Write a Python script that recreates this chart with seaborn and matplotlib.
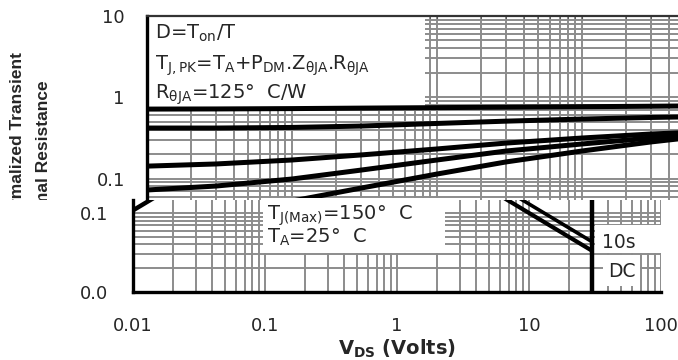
import numpy as np
import pandas as pd
import matplotlib
matplotlib.use("Agg")
import matplotlib.pyplot as plt
from matplotlib.patches import Rectangle
from matplotlib.ticker import LogLocator, NullFormatter, FixedLocator, FixedFormatter
import seaborn as sns

# --- top chart: normalized transient thermal impedance (time axis unlabeled)
pulse_t = [1e-4, 3e-4, 1e-3, 3e-3, 1e-2, 3e-2, 1e-1, 3e-1, 0.46]
z_curve_a = [0.715, 0.718, 0.725, 0.735, 0.745, 0.755, 0.765, 0.775, 0.78]
z_curve_b = [0.418, 0.418, 0.425, 0.442, 0.476, 0.508, 0.539, 0.564, 0.571]
z_curve_c = [0.142, 0.151, 0.169, 0.195, 0.231, 0.273, 0.315, 0.353, 0.364]
z_curve_d = [0.0722, 0.0808, 0.0986, 0.127, 0.169, 0.218, 0.266, 0.315, 0.334]
z_curve_e = [np.nan, np.nan, 0.0528, 0.0763, 0.1135, 0.160, 0.218, 0.282, 0.307]
top_yticks = [0.1, 1, 10]
top_ylabels = ["0.1", "1", "10"]

# --- bottom chart: safe operating area
rds_vds = [0.01, 0.02]
rds_id = [0.108, 0.216]
s10_vds = [7, 30]
s10_id = [0.186, 0.0433]
dc_vds = [6, 30]
dc_id = [0.167, 0.0333]
lim_vds = [30, 30]
lim_id = [0.01, 0.2]
bot_xticks = [0.01, 0.1, 1, 10, 100]
bot_xlabels = ["0.01", "0.1", "1", "10", "100"]
bot_yticks = [0.01, 0.1]
bot_ylabels = ["0.0", "0.1"]

sns.set_style("white")
plt.rcParams["font.family"] = ["DejaVu Sans"]
plt.rcParams["mathtext.fontset"] = "dejavusans"

GRID = "#8c8c8c"
W, H = 678, 360

fig = plt.figure(figsize=(6.78, 3.6), dpi=100)

def px_axes(l, t, r, b):
    return [l / W, 1 - b / H, (r - l) / W, (b - t) / H]

# ---------------- top chart
ax_t = fig.add_axes(px_axes(147, 16, 678, 200), zorder=0)
ax_t.set_xscale("log")
ax_t.set_yscale("log")
ax_t.set_xlim(1e-4, 10 ** (-4 + 531 / 145))
ax_t.set_ylim(10 ** (-1 - 21.5 / 81.25), 10)

zt = pd.DataFrame({"t": pulse_t * 5,
                   "z": z_curve_a + z_curve_b + z_curve_c + z_curve_d + z_curve_e,
                   "curve": sum([[k] * len(pulse_t) for k in "abcde"], [])})
zt = zt.dropna()
sns.lineplot(data=zt, x="t", y="z", hue="curve", palette=["black"] * 5,
             linewidth=3.6, legend=False, ax=ax_t, zorder=3)

ax_t.set_axisbelow(True)
ax_t.xaxis.set_major_locator(LogLocator(base=10, numticks=20))
ax_t.xaxis.set_minor_locator(LogLocator(base=10, subs=np.arange(2, 10), numticks=20))
ax_t.yaxis.set_minor_locator(LogLocator(base=10, subs=np.arange(2, 10), numticks=20))
ax_t.grid(True, which="both", color=GRID, linewidth=1.4)
ax_t.xaxis.set_major_formatter(NullFormatter())
ax_t.xaxis.set_minor_formatter(NullFormatter())
ax_t.yaxis.set_major_locator(FixedLocator(top_yticks))
ax_t.yaxis.set_major_formatter(FixedFormatter(top_ylabels))
ax_t.yaxis.set_minor_formatter(NullFormatter())
ax_t.tick_params(axis="x", which="both", bottom=False, top=True, direction="in",
                 length=3, color="#555555")
ax_t.tick_params(axis="y", which="major", direction="in", length=5, width=1.2,
                 pad=16, labelsize=13)
ax_t.tick_params(axis="y", which="minor", length=0)
for s in ["right", "bottom"]:
    ax_t.spines[s].set_visible(False)
ax_t.spines["left"].set_linewidth(2.4)
ax_t.spines["left"].set_color("black")
ax_t.spines["top"].set_linewidth(1.6)
ax_t.spines["top"].set_color("#333333")
ax_t.set_xlabel("")
ax_t.set_ylabel("")

# white legend box (covers the grid above the top curve)
ax_t.add_patch(Rectangle((0, 0.5), 0.524, 0.5, transform=ax_t.transAxes,
                         facecolor="white", edgecolor="none", zorder=2))
box_kw = dict(transform=ax_t.transAxes, fontsize=14, va="baseline", ha="left", zorder=4)
ax_t.text(0.015, 0.875, r"D=T$_{\mathrm{on}}$/T", **box_kw)
ax_t.text(0.015, 0.707,
          r"T$_{\mathrm{J,PK}}$=T$_{\mathrm{A}}$+P$_{\mathrm{DM}}$.Z$_{\mathrm{θJA}}$.R$_{\mathrm{θJA}}$",
          **box_kw)
ax_t.text(0.015, 0.549, r"R$_{\mathrm{θJA}}$=125°  C/W", **box_kw)

# y label, cut off at the left edge and under the lower chart
ylab_kw = dict(rotation=90, ha="center", va="top", fontsize=12.5,
               fontweight="bold", family=["Liberation Sans", "DejaVu Sans"], zorder=0.5)
fig.text(18 / W, 1 - 52 / H, "Normalized Transient", **ylab_kw)
fig.text(43 / W, 1 - 80 / H, "Thermal Resistance", **ylab_kw)

# white cover for the lower chart
fig.patches.append(Rectangle((0, 0), 1, 1 - 200 / H, transform=fig.transFigure,
                             facecolor="white", edgecolor="none", zorder=1))

# ---------------- bottom chart
ax_b = fig.add_axes(px_axes(133, 200, 661, 292), zorder=2)
ax_b.set_facecolor("white")
ax_b.set_xscale("log")
ax_b.set_yscale("log")
ax_b.set_xlim(0.01, 100)
ax_b.set_ylim(0.01, 0.1 * 10 ** (13 / 79))

for xs, ys, lw in [(rds_vds, rds_id, 3.2), (s10_vds, s10_id, 2.6),
                   (dc_vds, dc_id, 3.0), (lim_vds, lim_id, 3.2)]:
    sns.lineplot(x=xs, y=ys, color="black", linewidth=lw, estimator=None,
                 sort=False, ax=ax_b, zorder=4)

ax_b.set_axisbelow(True)
ax_b.xaxis.set_major_locator(FixedLocator(bot_xticks))
ax_b.xaxis.set_major_formatter(FixedFormatter(bot_xlabels))
ax_b.xaxis.set_minor_locator(LogLocator(base=10, subs=np.arange(2, 10), numticks=20))
ax_b.xaxis.set_minor_formatter(NullFormatter())
ax_b.yaxis.set_major_locator(FixedLocator(bot_yticks))
ax_b.yaxis.set_major_formatter(FixedFormatter(bot_ylabels))
ax_b.yaxis.set_minor_locator(LogLocator(base=10, subs=np.arange(2, 10), numticks=20))
ax_b.yaxis.set_minor_formatter(NullFormatter())
ax_b.grid(True, which="both", color=GRID, linewidth=1.4)
ax_b.tick_params(which="both", length=0, labelsize=13)
ax_b.tick_params(axis="x", pad=18)
ax_b.tick_params(axis="y", pad=18)
for s in ["right", "top"]:
    ax_b.spines[s].set_visible(False)
for s in ["left", "bottom"]:
    ax_b.spines[s].set_linewidth(2.4)
    ax_b.spines[s].set_color("black")

ax_b.set_xlabel(r"V$_{\mathbf{DS}}$ (Volts)", fontsize=14, fontweight="bold")
ax_b.xaxis.set_label_coords(0.5, -0.5)
ax_b.set_ylabel("")

ax_b.add_patch(Rectangle((0.246, 0.424), 0.345, 0.6, transform=ax_b.transAxes,
                         facecolor="white", edgecolor="none", zorder=2, clip_on=False))
ax_b.add_patch(Rectangle((0.875, 0.424), 0.13, 0.304, transform=ax_b.transAxes,
                         facecolor="white", edgecolor="none", zorder=2, clip_on=False))
ax_b.add_patch(Rectangle((0.89, 0.06), 0.07, 0.34, transform=ax_b.transAxes,
                         facecolor="white", edgecolor="none", zorder=2))
bt_kw = dict(transform=ax_b.transAxes, fontsize=14, va="baseline", ha="left", zorder=5)
ax_b.text(0.254, 0.783, r"T$_{\mathrm{J(Max)}}$=150°  C", **bt_kw)
ax_b.text(0.254, 0.533, r"T$_{\mathrm{A}}$=25°  C", **bt_kw)
ax_b.text(0.888, 0.478, "10s", fontsize=13.5, transform=ax_b.transAxes,
          va="baseline", ha="left", zorder=5)
ax_b.text(0.9, 0.163, "DC", fontsize=13.5, transform=ax_b.transAxes,
          va="baseline", ha="left", zorder=5)

fig.savefig("out.png", dpi=100)
